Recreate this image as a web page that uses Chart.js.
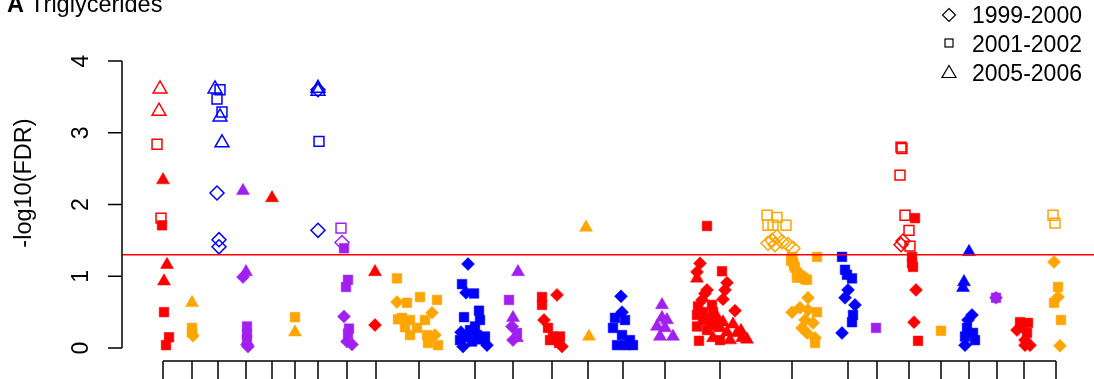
<!DOCTYPE html>
<html lang="en">
<head>
<meta charset="UTF-8">
<title>A Triglycerides</title>
<script src="https://cdn.jsdelivr.net/npm/chart.js"></script>
<style>
  body { margin: 0; background: #fff; font-family: "Liberation Sans", Arial, sans-serif; color: #000; }
  #wrap { position: relative; width: 1094px; height: 379px; overflow: hidden; }
  #chart-box { position: absolute; left: 0; top: 0; width: 1094px; height: 379px; }
  #title { position: absolute; left: 7px; top: -9px; font-size: 23.5px; line-height: 26px; white-space: nowrap; }
  #title b { font-weight: bold; }
  #ylab { position: absolute; left: -77px; top: 170px; width: 200px; text-align: center;
          font-size: 23.5px; line-height: 26px; transform: rotate(-90deg); white-space: nowrap; }
  .leg { position: absolute; left: 972px; font-size: 23px; line-height: 26px; white-space: nowrap; }
  .legsym { position: absolute; left: 940px; width: 18px; height: 18px; }
</style>
</head>
<body>
<div id="wrap">
  <div id="chart-box"><canvas id="tg-chart"></canvas></div>
  <div id="title"><b>A</b> Triglycerides</div>
  <div id="ylab">-log10(FDR)</div>
  <svg class="legsym" style="top:6px" viewBox="0 0 18 18"><path d="M9 2.5 L15.5 9 L9 15.5 L2.5 9 Z" fill="none" stroke="#000" stroke-width="1.2"/></svg>
  <svg class="legsym" style="top:34px" viewBox="0 0 18 18"><rect x="5" y="5" width="8" height="8" fill="none" stroke="#000" stroke-width="1.2"/></svg>
  <svg class="legsym" style="top:63px" viewBox="0 0 18 18"><path d="M9 2.5 L16 14.5 L2 14.5 Z" fill="none" stroke="#000" stroke-width="1.2"/></svg>
  <div class="leg" style="top:2px">1999-2000</div>
  <div class="leg" style="top:31px">2001-2002</div>
  <div class="leg" style="top:60px">2005-2006</div>
</div>

<script>
// y ticks and threshold
const yTicks = [0, 1, 2, 3, 4];
const yTickLabels = ["0", "1", "2", "3", "4"];
const fdrCut = 0.05;
// x positions of the group boundaries along the axis
const xTicks = [0, 29, 55, 83, 109, 132, 155, 184, 213, 256, 312, 350, 389, 425, 460, 502, 557, 629, 685, 714, 746, 778, 806, 834, 861, 893];

// [position, -log10(FDR)]
// red
const redOpenTri = [[-3,3.61],[-4,3.30]];
const redOpenSq = [[-6,2.84],[-2,1.81],[738,2.80],[739,2.78],[737,2.41],[742,1.85],[746,1.64],[747,1.42]];
const redOpenDia = [[740,1.49],[738,1.44]];
const redTri = [[0,2.34],[4,1.16],[1,0.93],[109,2.09],[212,1.06],[534,0.97],[554,0.43],[557,0.28],[564,0.22],[574,0.21],[579,0.14],[550,0.14],[567,0.11],
  [570,0.33],[578,0.24],[584,0.12],[560,0.36],[547,0.30]];
const redSq = [[-1,1.71],[1,0.50],[6,0.15],[3,0.04],[379,0.71],[379,0.60],[385,0.28],[390,0.16],[397,0.16],[387,0.11],[396,0.07],
  [544,1.70],[559,1.07],[535,0.58],[549,0.60],[550,0.50],[534,0.46],[540,0.39],[534,0.30],[536,0.10],[544,0.25],[557,0.11],
  [540,0.50],[546,0.40],[552,0.33],
  [752,1.81],[749,1.27],[749,1.18],[750,1.13],[755,0.10],[857,0.36],[865,0.35],[859,0.28],[864,0.21]];
const redDia = [[212,0.32],[394,0.74],[381,0.39],[399,0.02],[537,1.18],[534,1.06],[564,0.91],[562,0.81],[560,0.68],[542,0.76],
  [539,0.67],[572,0.52],[544,0.81],[753,0.81],[751,0.36],[854,0.25],[862,0.11],[867,0.04],[862,0.04]];
// blue
const blueOpenTri = [[52,3.61],[57,3.22],[59,2.86],[155,3.62],[155,3.58]];
const blueOpenSq = [[57,3.60],[54,3.47],[59,3.29],[156,2.88]];
const blueOpenDia = [[54,2.16],[56,1.51],[56,1.41],[155,3.60],[155,1.64]];
const blueTri = [[806,1.34],[801,0.92],[800,0.84]];
const blueSq = [[299,0.89],[311,0.76],[316,0.52],[301,0.43],[317,0.39],[307,0.25],[314,0.18],[322,0.16],[309,0.09],[297,0.11],
  [312,0.30],[318,0.12],[304,0.15],
  [462,0.39],[452,0.42],[450,0.28],[459,0.18],[467,0.11],[454,0.04],[470,0.04],[463,0.04],
  [679,1.27],[682,1.09],[684,1.02],[689,0.97],[690,0.46],[689,0.36],[804,0.28],[810,0.21],[802,0.16],[812,0.11]];
const blueDia = [[305,1.17],[303,0.77],[298,0.22],[300,0.02],[324,0.04],[458,0.72],[459,0.50],[685,0.81],[682,0.70],[692,0.60],
  [679,0.21],[809,0.46],[805,0.39],[802,0.04]];
// purple
const purpleOpenSq = [[178,1.67]];
const purpleOpenDia = [[179,1.47]];
const purpleTri = [[80,2.19],[83,1.06],[355,1.06],[350,0.42],[354,0.14],[499,0.60],[499,0.42],[494,0.30],[502,0.28],[504,0.39],[497,0.16],[510,0.16]];
const purpleSq = [[84,0.30],[84,0.20],[84,0.12],[181,1.39],[185,0.95],[183,0.85],[186,0.27],[185,0.20],[346,0.67],[354,0.21],[713,0.28],[833,0.70]];
const purpleDia = [[80,0.99],[84,0.05],[85,0.02],[181,0.44],[184,0.09],[189,0.05],[349,0.30],[350,0.11],[833,0.70]];
// orange
const orangeOpenSq = [[604,1.85],[614,1.82],[605,1.71],[623,1.71],[610,1.71],[890,1.85],[892,1.74]];
const orangeOpenDia = [[609,1.50],[614,1.55],[619,1.48],[625,1.44],[630,1.39],[605,1.46],[612,1.44]];
const orangeTri = [[29,0.63],[132,0.22],[423,1.68],[426,0.16]];
const orangeSq = [[29,0.28],[29,0.22],[132,0.43],[234,0.97],[235,0.40],[244,0.63],[257,0.71],[274,0.67],[239,0.42],[247,0.39],
  [242,0.29],[247,0.18],[262,0.39],[254,0.28],[265,0.07],[275,0.04],[264,0.18],
  [629,1.27],[630,1.20],[632,1.12],[634,1.05],[640,0.98],[644,0.95],[634,0.98],[654,1.27],[654,0.50],[652,0.07],
  [628,1.22],[631,1.15],[636,1.02],[638,1.00],[642,0.96],
  [778,0.24],[895,0.85],[891,0.63],[898,0.39]];
const orangeDia = [[30,0.17],[234,0.64],[269,0.49],[272,0.18],[645,0.70],[629,0.50],[637,0.56],[645,0.53],[642,0.39],[639,0.28],
  [650,0.35],[644,0.21],[652,0.14],[891,1.20],[895,0.71],[897,0.03]];

// axis placement (data units)
const yAxisAt = -41;
const xAxisAt = -0.18;

const RED = "#FF0000", BLUE = "#0000FF", PURPLE = "#A020F0", ORANGE = "#FFA500";

function pts(arr) { return arr.map(p => ({ x: p[0], y: p[1] })); }

function series(label, color, style, filled, arr) {
  const r = { triangle: filled ? 7.5 : 8, rect: filled ? 6.8 : 7, rectRot: filled ? 6.5 : 7 }[style];
  return {
    type: "scatter",
    label: label,
    data: pts(arr),
    pointStyle: style,
    pointRadius: r,
    pointHoverRadius: r,
    borderColor: color,
    backgroundColor: filled ? color : "transparent",
    borderWidth: filled ? 0.5 : 1.5
  };
}

const threshold = -Math.log10(fdrCut);

const datasets = [
  {
    type: "line", label: "FDR 0.05", order: -1,
    data: [{ x: yAxisAt, y: threshold }, { x: 931, y: threshold }],
    borderColor: RED, borderWidth: 1.5, pointRadius: 0, fill: false
  },
  series("red open tri", RED, "triangle", false, redOpenTri),
  series("red open sq", RED, "rect", false, redOpenSq),
  series("red open dia", RED, "rectRot", false, redOpenDia),
  series("blue open tri", BLUE, "triangle", false, blueOpenTri),
  series("blue open sq", BLUE, "rect", false, blueOpenSq),
  series("blue open dia", BLUE, "rectRot", false, blueOpenDia),
  series("purple open sq", PURPLE, "rect", false, purpleOpenSq),
  series("purple open dia", PURPLE, "rectRot", false, purpleOpenDia),
  series("orange open sq", ORANGE, "rect", false, orangeOpenSq),
  series("orange open dia", ORANGE, "rectRot", false, orangeOpenDia),
  series("red tri", RED, "triangle", true, redTri),
  series("red sq", RED, "rect", true, redSq),
  series("red dia", RED, "rectRot", true, redDia),
  series("blue tri", BLUE, "triangle", true, blueTri),
  series("blue sq", BLUE, "rect", true, blueSq),
  series("blue dia", BLUE, "rectRot", true, blueDia),
  series("purple tri", PURPLE, "triangle", true, purpleTri),
  series("purple sq", PURPLE, "rect", true, purpleSq),
  series("purple dia", PURPLE, "rectRot", true, purpleDia),
  series("orange tri", ORANGE, "triangle", true, orangeTri),
  series("orange sq", ORANGE, "rect", true, orangeSq),
  series("orange dia", ORANGE, "rectRot", true, orangeDia)
];

// R style axes: y axis only over 0..4, x axis only between first and last tick
const rAxes = {
  id: "rAxes",
  afterDraw(chart) {
    const ctx = chart.ctx, xs = chart.scales.x, ys = chart.scales.y;
    const tickLen = 14;
    ctx.save();
    ctx.strokeStyle = "#000";
    ctx.lineWidth = 1.5;
    // y axis
    const ax = xs.getPixelForValue(yAxisAt);
    ctx.beginPath();
    ctx.moveTo(ax, ys.getPixelForValue(yTicks[0]));
    ctx.lineTo(ax, ys.getPixelForValue(yTicks[yTicks.length - 1]));
    yTicks.forEach(t => {
      const py = ys.getPixelForValue(t);
      ctx.moveTo(ax - tickLen, py);
      ctx.lineTo(ax, py);
    });
    // x axis
    const ay = ys.getPixelForValue(xAxisAt);
    ctx.moveTo(xs.getPixelForValue(xTicks[0]), ay);
    ctx.lineTo(xs.getPixelForValue(xTicks[xTicks.length - 1]), ay);
    xTicks.forEach(t => {
      const px = xs.getPixelForValue(t);
      ctx.moveTo(px, ay);
      ctx.lineTo(px, ay + tickLen + 6);
    });
    ctx.stroke();
    // rotated y tick labels
    ctx.fillStyle = "#000";
    ctx.font = '23px "Liberation Sans", Arial, sans-serif';
    ctx.textAlign = "center";
    ctx.textBaseline = "alphabetic";
    yTicks.forEach((t, i) => {
      const py = ys.getPixelForValue(t);
      ctx.save();
      ctx.translate(ax - 34, py);
      ctx.rotate(-Math.PI / 2);
      ctx.fillText(yTickLabels[i], 0, 0);
      ctx.restore();
    });
    ctx.restore();
  }
};

new Chart(document.getElementById("tg-chart").getContext("2d"), {
  data: { datasets: datasets },
  options: {
    responsive: true,
    maintainAspectRatio: false,
    animation: false,
    events: [],
    layout: { padding: 0, autoPadding: false },
    plugins: { legend: { display: false }, tooltip: { enabled: false }, title: { display: false } },
    scales: {
      x: { type: "linear", display: false, min: -163, max: 931 },
      y: { type: "linear", display: false, min: -0.432, max: 4.85 }
    }
  },
  plugins: [rAxes]
});
</script>
</body>
</html>
